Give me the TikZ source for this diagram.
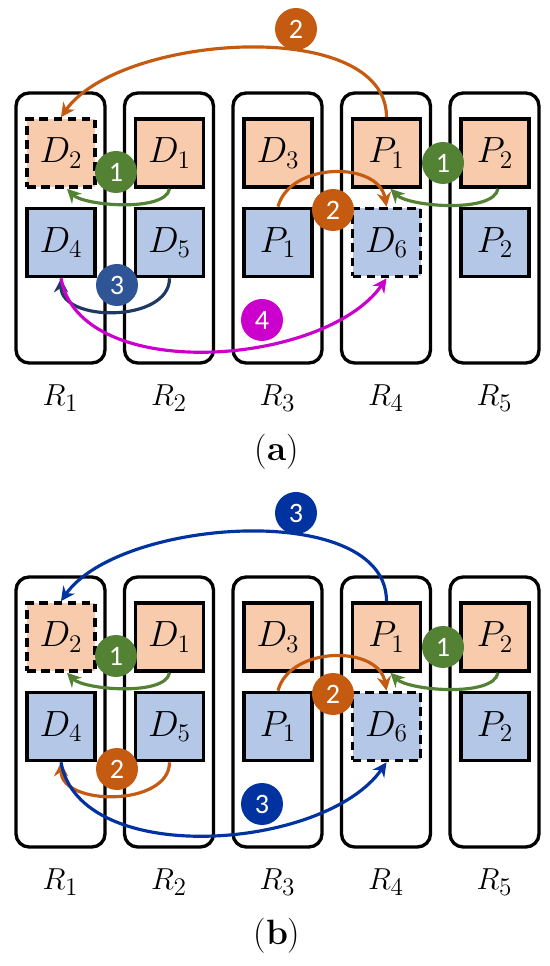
\documentclass[tikz,border=0pt]{standalone}
\usepackage{fontspec}
\newfontfamily\badgefont{Carlito}
\usetikzlibrary{arrows.meta,positioning,calc}

\definecolor{peach}{HTML}{F8CBAD}
\definecolor{steel}{HTML}{B4C7E7}
\definecolor{rust}{HTML}{C55A11}
\definecolor{leaf}{HTML}{548235}
\definecolor{navy}{HTML}{203864}
\definecolor{navybadge}{HTML}{2F5597}
\definecolor{royal}{HTML}{0033A0}
\definecolor{plum}{HTML}{CC00CC}

\tikzset{
  rack/.style={draw,line width=1.9pt,rounded corners=0.26cm,minimum width=1.78cm,minimum height=5.4cm},
  slot/.style={draw,line width=2.1pt,minimum size=1.36cm,inner sep=0pt,font=\fontsize{20}{23}\selectfont},
  upper/.style={slot,fill=peach},
  lower/.style={slot,fill=steel},
  spare/.style={dash pattern=on 5pt off 3pt},
  badge/.style={circle,fill=#1,text=white,minimum size=0.84cm,inner sep=0pt,font=\badgefont\fontsize{16}{18}\selectfont},
  move/.style={draw=#1,line width=1.8pt,-{Stealth[length=8pt,width=8pt]}},
}

\begin{document}
\begin{tikzpicture}[x=0.02cm,y=0.02cm]
\useasboundingbox (0,0) rectangle (550,966);
% racks and slots, both panels
\foreach \p/\dy in {a/0,b/484} {
  \foreach \i in {1,...,5} {
    \node[rack] (\p-R\i) at ({60.5+108.5*(\i-1)},738-\dy) {};
    \node[font=\fontsize{19}{22}\selectfont] (\p-n\i) at ({60.5+108.5*(\i-1)},568-\dy) {$R_\i$};
  }
  \foreach \i/\t/\s in {1/D_2/spare,2/D_1/solid,3/D_3/solid,4/P_1/solid,5/P_2/solid}
    \node[upper,\s] (\p-t\i) at ({61+108.5*(\i-1)},813-\dy) {$\t$};
  \foreach \i/\t/\s in {1/D_4/solid,2/D_5/solid,3/P_1/solid,4/D_6/spare,5/P_2/solid}
    \node[lower,\s] (\p-b\i) at ({61+108.5*(\i-1)},723.5-\dy) {$\t$};
  \node[font=\fontsize{20}{23}\selectfont] (\p-cap) at (277,514-\dy) {(\textbf{\p})};
}

% panel (a)
\draw[move=rust] (a-t4.north) to[out=90,in=55,looseness=0.8] (a-t1.north);
\draw[move=rust] (a-b3.north) to[out=75,in=100,looseness=1.1] (a-b4.north);
\draw[move=leaf] (a-t2.south) to[out=-100,in=-45,looseness=0.6] ($(a-t1.south)+(6,0)$);
\draw[move=leaf] ($(a-t5.south)+(3,0)$) to[out=-100,in=-45,looseness=0.6] ($(a-t4.south)+(4,0)$);
\draw[move=navy] (a-b2.south) to[out=-90,in=-90,looseness=1.05] (a-b1.south);
\draw[move=plum] (a-b1.south) to[out=-80,in=-125,looseness=0.85] (a-b4.south);
\node[badge=rust] (a-k1) at (296,937) {2};
\node[badge=rust] (a-k2) at (333,756) {2};
\node[badge=leaf] (a-k3) at (116,794) {1};
\node[badge=leaf] (a-k4) at (443,803) {1};
\node[badge=navybadge] (a-k5) at (117,681) {3};
\node[badge=plum] (a-k6) at (262,646) {4};

% panel (b)
\draw[move=royal] (b-t4.north) to[out=90,in=55,looseness=0.8] (b-t1.north);
\draw[move=rust] (b-b3.north) to[out=75,in=100,looseness=1.1] (b-b4.north);
\draw[move=leaf] (b-t2.south) to[out=-100,in=-45,looseness=0.6] ($(b-t1.south)+(6,0)$);
\draw[move=leaf] ($(b-t5.south)+(3,0)$) to[out=-100,in=-45,looseness=0.6] ($(b-t4.south)+(4,0)$);
\draw[move=rust] (b-b2.south) to[out=-90,in=-90,looseness=1.05] (b-b1.south);
\draw[move=royal] (b-b1.south) to[out=-80,in=-125,looseness=0.85] (b-b4.south);
\node[badge=royal] (b-k1) at (296,453) {3};
\node[badge=rust] (b-k2) at (333,272) {2};
\node[badge=leaf] (b-k3) at (116,310) {1};
\node[badge=leaf] (b-k4) at (443,319) {1};
\node[badge=rust] (b-k5) at (117,197) {2};
\node[badge=royal] (b-k6) at (262,162) {3};
\end{tikzpicture}
\end{document}
